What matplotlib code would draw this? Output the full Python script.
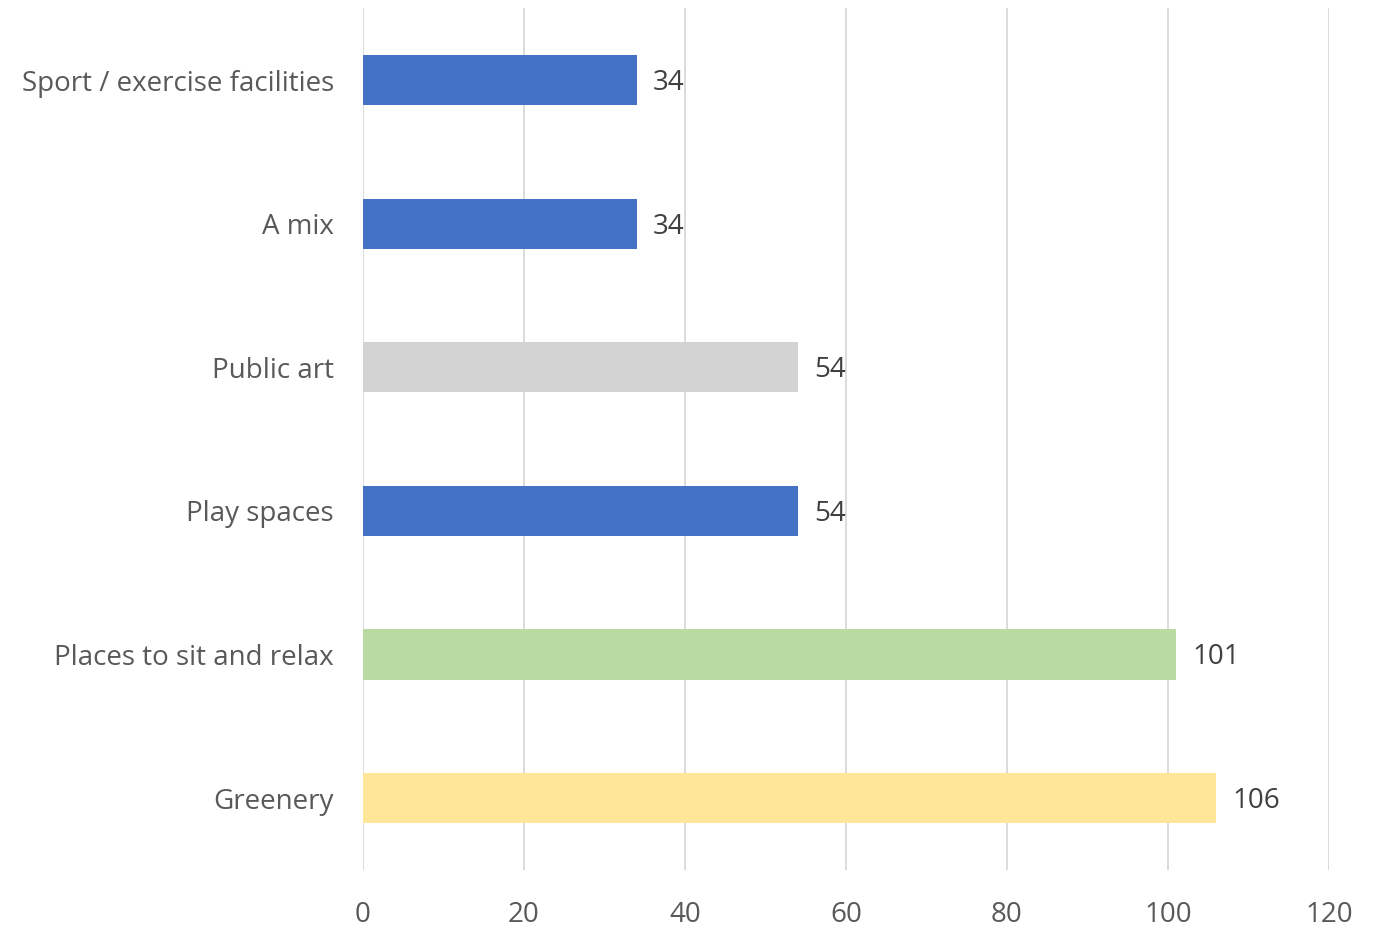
import matplotlib.pyplot as plt

categories = ['Sport / exercise facilities', 'A mix', 'Public art', 'Play spaces',
              'Places to sit and relax', 'Greenery']
values = [34, 34, 54, 54, 101, 106]
colors = ['#4472C4', '#4472C4', '#D3D3D3', '#4472C4', '#B9DAA3', '#FFE699']
xticks = [0, 20, 40, 60, 80, 100, 120]

plt.rcParams['font.family'] = ['Open Sans', 'DejaVu Sans']

fig = plt.figure(figsize=(13.8, 9.26), dpi=100)
ax = fig.add_axes([0.263, 0.0605, 0.7, 0.9305])

pos = list(range(len(categories)))
ax.barh(pos, values, height=0.35, color=colors, zorder=3)
for p, v in zip(pos, values):
    ax.text(v + 2, p + 0.02, str(v), va='center', ha='left', fontsize=20, color='#404040', zorder=4)

ax.set_ylim(len(categories) - 0.5, -0.5)
ax.set_xlim(0, 120)
ax.set_yticks(pos)
ax.set_yticklabels(categories, fontsize=20, color='#595959')
ax.set_xticks(xticks)
ax.set_xticklabels([str(t) for t in xticks], fontsize=20, color='#595959')
ax.tick_params(axis='both', length=0)
ax.tick_params(axis='y', pad=21)
ax.tick_params(axis='x', pad=22)
ax.grid(axis='x', color='#D9D9D9', linewidth=1.3, zorder=0)
for s in ax.spines.values():
    s.set_visible(False)

fig.savefig('out.png', dpi=100)
